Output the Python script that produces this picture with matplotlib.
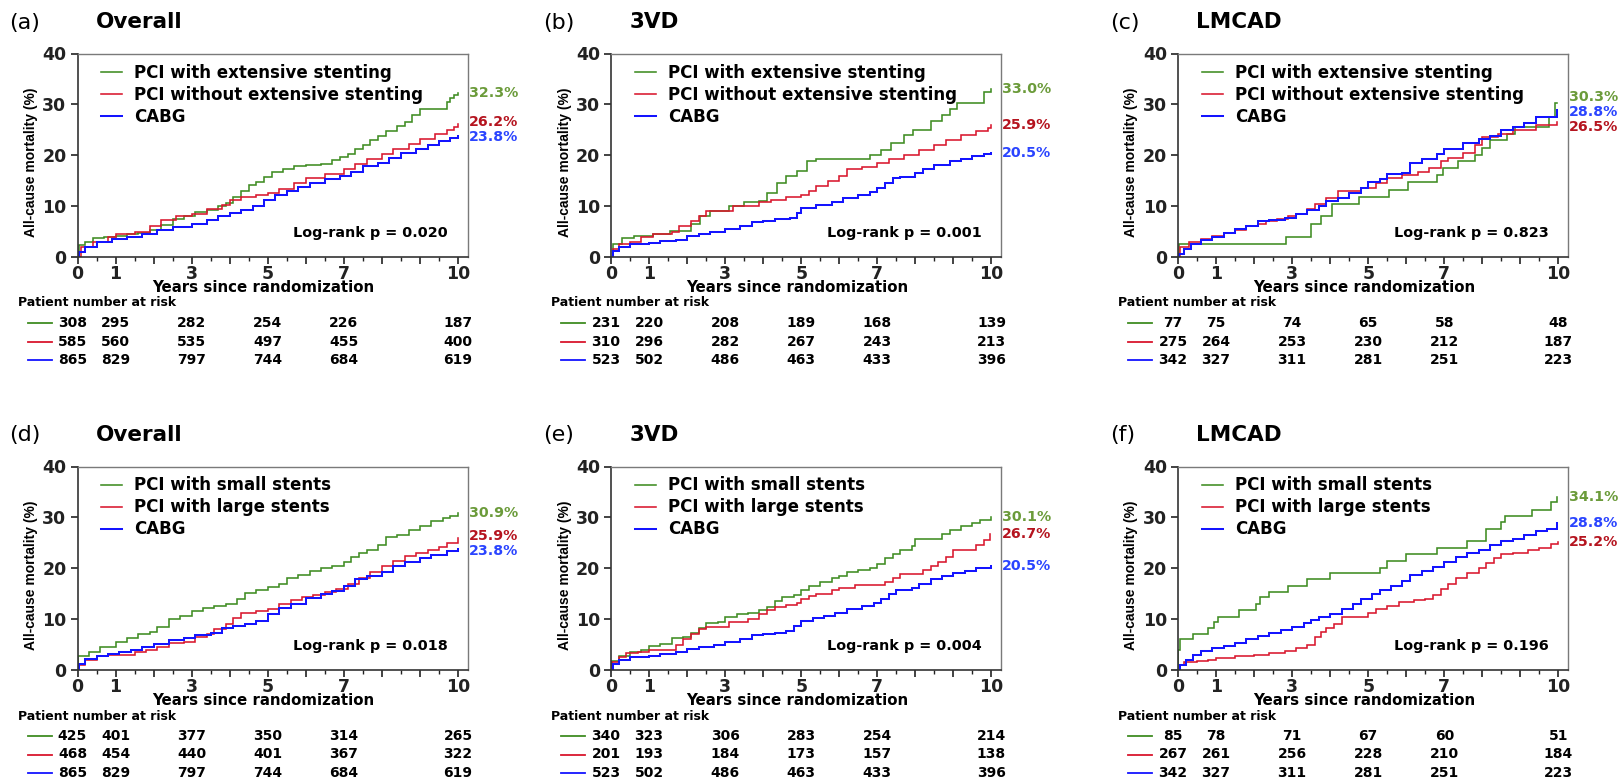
"""
Kaplan-Meier style all-cause mortality curves, six panels with risk tables.
Output: out.png
"""

import matplotlib
matplotlib.use("Agg")
import matplotlib.pyplot as plt
from matplotlib.ticker import FixedLocator, MultipleLocator, FuncFormatter

W, H = 1621, 780          # figure size in pixels (dpi 100)
AX_W, AX_H = 390, 203.5   # axes size in pixels
AX_LEFTS = [77.5, 611, 1178]
AX_TOPS = [53.5, 466.5]

GREEN, RED, BLUE = "#3f8c22", "#d9162d", "#1414ff"
LINE_COLORS = [GREEN, RED, BLUE]
LINE_WIDTHS = [1.15, 1.15, 1.45]
PCT_COLORS = ["#6b9b3a", "#b5141f", "#2a44ff"]

RISK_YEARS = [0, 1, 3, 5, 7, 10]
LABELED_YEARS = [0, 1, 3, 5, 7, 10]

TOP_LABELS = ["PCI with extensive stenting", "PCI without extensive stenting", "CABG"]
BOTTOM_LABELS = ["PCI with small stents", "PCI with large stents", "CABG"]

# ---- curves: (years, cumulative mortality %) ----
A_GREEN = [(0, 0), (0.05, 2.3), (0.2, 3.0), (0.4, 3.7), (0.7, 4.0), (1.0, 4.2), (1.3, 4.5),
           (1.6, 4.8), (1.9, 5.3), (2.2, 6.3), (2.5, 7.4), (2.8, 8.0), (3.1, 8.8), (3.4, 9.3),
           (3.7, 10.0), (3.9, 10.6), (4.1, 11.8), (4.3, 13.0), (4.5, 14.2), (4.7, 14.8),
           (4.9, 15.8), (5.1, 16.7), (5.4, 17.2), (5.7, 17.8), (6.0, 18.0), (6.4, 18.2),
           (6.7, 19.0), (6.9, 19.6), (7.1, 20.3), (7.3, 21.2), (7.5, 22.0), (7.7, 23.0),
           (7.9, 23.8), (8.1, 24.8), (8.4, 25.8), (8.6, 26.5), (8.8, 28.0), (9.0, 29.0),
           (9.7, 30.5), (9.8, 31.3), (9.9, 31.8), (10.0, 32.3)]
A_RED = [(0, 0), (0.1, 2.0), (0.4, 3.0), (0.8, 4.0), (1.0, 4.5), (1.5, 5.0), (1.9, 6.0),
         (2.2, 7.2), (2.6, 8.0), (3.0, 8.5), (3.4, 9.5), (3.8, 10.3), (4.0, 11.2), (4.3, 11.7),
         (4.7, 12.1), (5.0, 12.5), (5.3, 13.3), (5.7, 14.6), (6.0, 15.5), (6.5, 16.3),
         (7.0, 17.3), (7.3, 18.2), (7.6, 19.3), (8.0, 20.3), (8.3, 21.2), (8.7, 22.3),
         (9.0, 23.2), (9.4, 24.2), (9.7, 25.0), (9.9, 25.5), (10.0, 26.2)]
A_BLUE = [(0, 0), (0.05, 1.0), (0.2, 2.0), (0.5, 3.0), (0.9, 3.5), (1.3, 4.0), (1.7, 4.5),
          (2.1, 5.3), (2.5, 5.8), (3.0, 6.5), (3.4, 7.3), (3.7, 8.0), (4.0, 8.6), (4.3, 9.3),
          (4.6, 10.0), (4.9, 11.2), (5.2, 12.2), (5.5, 13.0), (5.8, 13.8), (6.1, 14.6),
          (6.5, 15.4), (6.9, 16.0), (7.2, 16.8), (7.5, 17.8), (7.9, 18.5), (8.2, 19.5),
          (8.5, 20.5), (8.9, 21.3), (9.2, 22.1), (9.5, 22.8), (9.8, 23.3), (10.0, 23.8)]

B_GREEN = [(0, 0), (0.05, 2.5), (0.3, 3.8), (0.6, 4.2), (1.1, 4.5), (1.55, 5.2), (2.1, 6.5),
           (2.35, 8.0), (2.6, 9.0), (3.1, 10.0), (3.5, 10.8), (3.9, 11.0), (4.1, 12.5),
           (4.35, 14.5), (4.6, 16.0), (4.9, 17.0), (5.15, 18.8), (5.4, 19.2), (6.5, 19.2),
           (6.8, 20.0), (7.1, 21.0), (7.35, 22.5), (7.7, 24.0), (7.95, 25.0), (8.4, 26.8),
           (8.7, 28.0), (8.9, 29.0), (9.1, 30.2), (9.7, 30.2), (9.8, 32.5), (10.0, 33.0)]
B_RED = [(0, 0), (0.05, 1.5), (0.2, 2.5), (0.5, 3.0), (0.8, 4.0), (1.1, 4.5), (1.6, 5.0),
         (1.8, 6.0), (2.1, 7.0), (2.3, 8.0), (2.5, 9.0), (3.2, 10.0), (3.9, 10.8), (4.2, 11.3),
         (4.6, 11.8), (5.0, 12.2), (5.2, 13.0), (5.4, 14.0), (5.7, 15.0), (6.0, 16.0),
         (6.2, 17.3), (6.6, 17.6), (7.0, 18.5), (7.3, 19.3), (7.7, 20.0), (8.1, 21.0),
         (8.5, 22.0), (8.8, 23.0), (9.2, 24.0), (9.6, 24.8), (9.9, 25.3), (10.0, 25.9)]
B_BLUE = [(0, 0), (0.05, 1.2), (0.2, 2.0), (0.5, 2.6), (1.0, 2.8), (1.3, 3.2), (1.7, 3.4),
          (2.0, 4.2), (2.3, 4.6), (2.6, 5.0), (3.0, 5.5), (3.4, 6.0), (3.7, 6.8), (4.0, 7.0),
          (4.3, 7.4), (4.7, 7.6), (4.9, 8.6), (5.0, 9.6), (5.4, 10.2), (5.8, 10.8),
          (6.1, 11.5), (6.5, 12.2), (6.8, 12.8), (7.0, 13.6), (7.2, 14.5), (7.4, 15.5),
          (7.6, 15.8), (8.0, 16.5), (8.2, 17.3), (8.5, 18.0), (8.9, 18.8), (9.2, 19.3),
          (9.5, 19.8), (9.8, 20.2), (10.0, 20.5)]

C_GREEN = [(0, 0), (0.02, 2.6), (2.85, 4.0), (3.5, 6.5), (3.75, 8.0), (4.05, 10.5),
           (4.75, 11.8), (5.55, 13.2), (6.05, 14.8), (6.8, 16.2), (6.97, 17.5), (7.35, 18.8),
           (7.8, 20.0), (8.0, 21.5), (8.2, 23.0), (8.65, 24.2), (8.85, 25.5), (9.75, 27.5),
           (9.9, 30.3), (9.95, 30.3)]
C_RED = [(0, 0), (0.05, 2.0), (0.3, 3.0), (0.6, 3.5), (0.9, 4.2), (1.2, 4.8), (1.5, 5.3),
         (1.8, 6.0), (2.1, 6.5), (2.3, 7.0), (2.6, 7.5), (2.9, 8.0), (3.1, 8.5), (3.4, 9.5),
         (3.6, 10.5), (3.9, 11.5), (4.2, 13.0), (4.8, 13.5), (5.2, 14.5), (5.5, 15.5),
         (5.9, 16.2), (6.3, 16.8), (6.6, 17.5), (6.9, 18.8), (7.1, 19.5), (7.5, 20.5),
         (7.8, 22.0), (8.0, 23.5), (8.4, 24.2), (8.8, 25.0), (9.4, 26.0), (9.95, 26.5)]
C_BLUE = [(0, 0), (0.02, 0.5), (0.15, 1.5), (0.35, 2.5), (0.6, 3.3), (0.9, 4.0), (1.2, 4.8),
          (1.5, 5.5), (1.8, 6.0), (2.1, 7.0), (2.4, 7.3), (2.8, 7.6), (3.1, 8.5), (3.4, 9.2),
          (3.7, 10.0), (3.9, 11.0), (4.2, 11.5), (4.5, 12.5), (4.8, 13.5), (5.0, 14.8),
          (5.3, 15.3), (5.5, 16.3), (5.9, 16.5), (6.1, 18.5), (6.4, 19.3), (6.8, 20.3),
          (7.0, 21.3), (7.5, 22.5), (7.9, 23.2), (8.2, 23.8), (8.5, 25.0), (8.8, 25.5),
          (9.1, 26.3), (9.4, 27.5), (9.8, 27.5), (9.95, 28.8)]

D_GREEN = [(0, 0), (0.02, 2.8), (0.3, 3.5), (0.6, 4.5), (1.0, 5.5), (1.3, 6.3), (1.6, 7.0),
           (1.9, 7.5), (2.1, 8.5), (2.4, 10.0), (2.7, 10.6), (3.0, 11.5), (3.3, 12.2),
           (3.6, 12.5), (3.9, 13.0), (4.2, 14.0), (4.4, 15.2), (4.7, 15.7), (5.0, 16.3),
           (5.3, 17.0), (5.5, 18.0), (5.8, 18.7), (6.1, 19.5), (6.4, 20.0), (6.7, 20.5),
           (7.0, 21.2), (7.2, 22.2), (7.4, 23.0), (7.6, 23.5), (7.9, 24.5), (8.1, 26.2),
           (8.4, 26.5), (8.7, 27.5), (9.0, 28.3), (9.3, 29.3), (9.6, 29.8), (9.8, 30.3),
           (10.0, 30.9)]
D_RED = [(0, 0), (0.05, 1.0), (0.2, 2.0), (0.5, 2.7), (0.8, 3.0), (1.5, 3.5), (1.8, 4.0),
         (2.1, 4.5), (2.4, 5.3), (2.8, 5.6), (3.1, 6.5), (3.4, 7.0), (3.6, 8.0), (3.9, 9.0),
         (4.1, 10.2), (4.3, 11.2), (4.7, 11.5), (5.0, 12.0), (5.3, 13.0), (5.6, 13.7),
         (5.9, 14.3), (6.2, 14.7), (6.5, 15.3), (6.8, 16.0), (7.1, 17.0), (7.4, 18.0),
         (7.7, 19.2), (8.0, 20.5), (8.3, 21.5), (8.6, 22.5), (8.9, 23.0), (9.2, 23.5),
         (9.5, 24.2), (9.7, 25.0), (10.0, 26.0)]
D_BLUE = [(0, 0), (0.05, 1.2), (0.2, 2.2), (0.5, 2.8), (0.8, 3.2), (1.1, 3.5), (1.4, 4.0),
          (1.7, 4.5), (2.0, 5.2), (2.4, 5.8), (2.8, 6.2), (3.1, 6.8), (3.5, 7.2), (3.8, 8.2),
          (4.1, 8.7), (4.4, 9.0), (4.7, 9.7), (5.0, 11.0), (5.3, 12.2), (5.6, 13.0),
          (6.0, 14.2), (6.4, 15.0), (6.7, 15.5), (7.0, 16.5), (7.3, 17.8), (7.6, 18.5),
          (8.0, 19.3), (8.3, 20.5), (8.6, 21.3), (9.0, 22.0), (9.3, 22.7), (9.7, 23.3),
          (10.0, 23.8)]

E_GREEN = [(0, 0), (0.02, 1.8), (0.2, 2.8), (0.5, 3.5), (0.8, 4.0), (1.0, 4.7), (1.3, 5.2),
           (1.6, 6.2), (1.9, 6.5), (2.1, 7.3), (2.3, 8.2), (2.5, 9.2), (2.8, 9.5), (3.0, 10.5),
           (3.3, 11.0), (3.6, 11.3), (3.9, 11.8), (4.1, 12.3), (4.3, 13.5), (4.5, 14.3),
           (4.8, 14.8), (5.0, 15.8), (5.2, 16.5), (5.5, 17.3), (5.8, 18.0), (6.0, 18.5),
           (6.2, 19.2), (6.5, 19.7), (6.8, 20.0), (7.0, 20.8), (7.2, 22.0), (7.4, 22.8),
           (7.6, 23.5), (7.9, 24.3), (8.0, 25.8), (8.7, 26.8), (8.9, 27.5), (9.2, 28.3),
           (9.5, 28.8), (9.7, 29.5), (10.0, 30.1)]
E_RED = [(0, 0), (0.03, 1.5), (0.2, 2.5), (0.4, 3.3), (0.7, 3.5), (1.0, 4.0), (1.7, 5.0),
         (1.9, 6.0), (2.1, 7.0), (2.3, 8.0), (2.5, 8.5), (3.1, 9.5), (3.6, 10.0), (3.9, 11.0),
         (4.1, 11.7), (4.3, 12.3), (4.6, 12.8), (4.9, 13.2), (5.0, 14.0), (5.2, 14.5),
         (5.4, 15.0), (5.8, 15.7), (6.0, 16.2), (6.4, 16.7), (7.2, 17.3), (7.4, 18.0),
         (7.6, 18.8), (8.2, 19.7), (8.4, 20.5), (8.6, 21.3), (8.8, 22.3), (9.0, 23.5),
         (9.6, 24.5), (9.8, 25.5), (9.95, 26.7)]
E_BLUE = [(0, 0), (0.05, 1.2), (0.2, 2.0), (0.5, 2.5), (1.0, 2.7), (1.3, 3.2), (1.7, 3.5),
          (2.0, 4.2), (2.3, 4.6), (2.7, 5.0), (3.0, 5.5), (3.4, 6.0), (3.7, 6.8), (4.0, 7.0),
          (4.3, 7.3), (4.6, 7.6), (4.8, 8.6), (5.0, 9.6), (5.3, 10.2), (5.6, 10.6),
          (5.9, 11.3), (6.2, 12.0), (6.6, 12.6), (6.9, 13.2), (7.1, 14.0), (7.3, 15.0),
          (7.5, 15.7), (7.9, 16.2), (8.1, 17.0), (8.4, 17.8), (8.7, 18.4), (9.0, 19.1),
          (9.3, 19.5), (9.6, 20.0), (10.0, 20.5)]

F_GREEN = [(0, 0), (0.01, 4.0), (0.05, 6.0), (0.4, 7.0), (0.8, 8.3), (0.95, 9.5), (1.05, 10.5),
           (1.6, 11.8), (2.05, 13.0), (2.15, 14.3), (2.4, 15.3), (2.9, 16.5), (3.4, 17.8),
           (4.0, 19.0), (5.3, 20.0), (5.5, 21.5), (6.0, 22.8), (6.8, 24.0), (7.6, 25.3),
           (8.1, 27.8), (8.5, 29.0), (8.6, 30.3), (9.3, 31.5), (9.8, 33.0), (9.95, 34.1)]
F_RED = [(0, 0), (0.05, 1.0), (0.15, 1.5), (0.5, 1.8), (0.8, 2.0), (1.0, 2.3), (1.5, 2.8),
         (2.0, 3.0), (2.4, 3.3), (2.8, 3.8), (3.1, 4.3), (3.4, 5.0), (3.6, 6.5), (3.75, 7.5),
         (3.9, 8.3), (4.1, 9.0), (4.3, 10.5), (5.0, 11.2), (5.2, 12.0), (5.5, 12.5),
         (5.8, 13.3), (6.2, 13.7), (6.5, 14.0), (6.7, 14.8), (6.9, 16.0), (7.1, 17.0),
         (7.3, 18.0), (7.6, 19.0), (7.9, 20.0), (8.1, 21.0), (8.3, 22.0), (8.5, 22.8),
         (8.8, 23.0), (9.2, 23.5), (9.5, 24.0), (9.8, 24.7), (10.0, 25.2)]
F_BLUE = [(0, 0), (0.05, 1.0), (0.2, 2.0), (0.4, 3.0), (0.6, 3.8), (0.9, 4.3), (1.2, 4.8),
          (1.5, 5.3), (1.8, 6.0), (2.1, 6.6), (2.4, 7.2), (2.7, 7.8), (3.0, 8.5), (3.3, 9.2),
          (3.5, 9.8), (3.7, 10.5), (4.0, 11.0), (4.3, 12.0), (4.6, 13.0), (4.8, 14.0),
          (5.1, 15.0), (5.3, 15.8), (5.6, 16.5), (5.9, 17.5), (6.1, 18.7), (6.4, 19.5),
          (6.7, 20.2), (7.0, 21.3), (7.3, 22.2), (7.6, 23.0), (7.9, 23.5), (8.2, 24.5),
          (8.5, 25.3), (8.8, 25.8), (9.1, 26.5), (9.4, 27.3), (9.7, 27.8), (9.95, 28.8)]

# ---- 10-year rates printed at the right of each panel (green, red, blue) ----
A_FINAL = [32.3, 26.2, 23.8]
B_FINAL = [33.0, 25.9, 20.5]
C_FINAL = [30.3, 26.5, 28.8]
D_FINAL = [30.9, 25.9, 23.8]
E_FINAL = [30.1, 26.7, 20.5]
F_FINAL = [34.1, 25.2, 28.8]

# ---- patient number at risk at RISK_YEARS (green, red, blue rows) ----
A_RISK = [[308, 295, 282, 254, 226, 187], [585, 560, 535, 497, 455, 400], [865, 829, 797, 744, 684, 619]]
B_RISK = [[231, 220, 208, 189, 168, 139], [310, 296, 282, 267, 243, 213], [523, 502, 486, 463, 433, 396]]
C_RISK = [[77, 75, 74, 65, 58, 48], [275, 264, 253, 230, 212, 187], [342, 327, 311, 281, 251, 223]]
D_RISK = [[425, 401, 377, 350, 314, 265], [468, 454, 440, 401, 367, 322], [865, 829, 797, 744, 684, 619]]
E_RISK = [[340, 323, 306, 283, 254, 214], [201, 193, 184, 173, 157, 138], [523, 502, 486, 463, 433, 396]]
F_RISK = [[85, 78, 71, 67, 60, 51], [267, 261, 256, 228, 210, 184], [342, 327, 311, 281, 251, 223]]

PANEL_LETTERS = ["a", "b", "c", "d", "e", "f"]
PANEL_TITLES = ["Overall", "3VD", "LMCAD", "Overall", "3VD", "LMCAD"]
P_VALUES = ["0.020", "0.001", "0.823", "0.018", "0.004", "0.196"]


def spread(values, gap=2.9, rounds=40):
    """Push label positions apart so they keep a minimum vertical gap."""
    pos = list(values)
    order = sorted(range(len(pos)), key=lambda i: -pos[i])
    for _ in range(rounds):
        for a, b in zip(order, order[1:]):
            d = pos[a] - pos[b]
            if d < gap:
                shift = (gap - d) / 2
                pos[a] += shift
                pos[b] -= shift
    return pos


def draw_panel(fig, left, top, letter, title, curves, labels, finals, risk, pval):
    ax = fig.add_axes([left / W, 1 - (top + AX_H) / H, AX_W / W, AX_H / H])

    for pts, color, lw, lab in zip(curves, LINE_COLORS, LINE_WIDTHS, labels):
        t = [p[0] for p in pts]
        v = [p[1] for p in pts]
        ax.plot(t, v, drawstyle="steps-post", color=color, lw=lw, label=lab,
                solid_joinstyle="miter")

    ax.set_xlim(0, 10.25)
    ax.set_ylim(0, 40)
    ax.xaxis.set_major_locator(FixedLocator(range(11)))
    ax.xaxis.set_minor_locator(MultipleLocator(0.5))
    ax.xaxis.set_major_formatter(FuncFormatter(
        lambda x, _: f"{x:.0f}" if round(x) in LABELED_YEARS else ""))
    ax.yaxis.set_major_locator(FixedLocator([0, 10, 20, 30, 40]))
    ax.tick_params(axis="x", which="major", direction="out", length=5, width=1.2,
                   labelsize=12.5, pad=0.5, colors="#222222")
    ax.tick_params(axis="x", which="minor", direction="out", length=3, width=1.0,
                   colors="#222222")
    ax.tick_params(axis="y", direction="out", length=5, width=1.2,
                   labelsize=12.5, pad=3, colors="#222222")
    for side in ("left", "bottom"):
        ax.spines[side].set_color("#333333")
        ax.spines[side].set_linewidth(1.2)
    for side in ("top", "right"):
        ax.spines[side].set_color("#7a7a7a")
        ax.spines[side].set_linewidth(1.0)

    ax.set_xlabel("Years since randomization", fontsize=10.8, fontweight="bold", va="center")
    ax.xaxis.set_label_coords(0.477, -30.5 / AX_H)
    ax.set_ylabel("All-cause mortality (%)", fontsize=10, fontweight="bold",
                  family="Liberation Sans", va="center")
    ax.yaxis.set_label_coords(-46.5 / AX_W, 0.464)

    ax.legend(loc="upper left", bbox_to_anchor=(23.5 / AX_W, 1 - 10 / AX_H),
              frameon=False, handlelength=1.28, handletextpad=0.72,
              labelspacing=0.24, borderpad=0, borderaxespad=0,
              prop={"weight": "bold", "size": 12})

    ax.text(0.95, 0.117, f"Log-rank p = {pval}", transform=ax.transAxes,
            ha="right", va="center", fontsize=10.4, fontweight="bold")

    # 10-year rates at the right edge
    for val, ypos, col in zip(finals, spread(finals), PCT_COLORS):
        ax.annotate(f"{val:.1f}%", xy=(1, ypos), xycoords=ax.get_yaxis_transform(),
                    xytext=(1, 0), textcoords="offset pixels", ha="left", va="center",
                    fontsize=10.2, fontweight="bold", color=col, annotation_clip=False)

    # panel letter and title
    ax.text(-68 / AX_W, 1 + 31 / AX_H, f"({letter})", transform=ax.transAxes,
            ha="left", va="center", fontsize=16, fontweight="normal")
    ax.text(18.5 / AX_W, 1 + 31 / AX_H, title, transform=ax.transAxes,
            ha="left", va="center", fontsize=15.5, fontweight="bold")

    # risk table
    ax.text(-60 / AX_W, -46 / AX_H, "Patient number at risk", transform=ax.transAxes,
            ha="left", va="center", fontsize=9, fontweight="bold")
    for i, (row, col) in enumerate(zip(risk, LINE_COLORS)):
        y = -(66 + 18.5 * i) / AX_H
        ax.plot([-50 / AX_W, -26 / AX_W], [y, y], transform=ax.transAxes,
                clip_on=False, color=col, lw=1.3)
        for j, (yr, n) in enumerate(zip(RISK_YEARS, row)):
            ax.annotate(str(n), xy=(yr, y), xycoords=ax.get_xaxis_transform(),
                        xytext=(-5 if j == 0 else 0, 0), textcoords="offset pixels",
                        ha="center", va="center", fontsize=10, fontweight="bold",
                        annotation_clip=False)
    return ax


def main():
    plt.rcParams["font.family"] = ["DejaVu Sans"]
    plt.rcParams["font.weight"] = "bold"
    fig = plt.figure(figsize=(W / 100, H / 100), dpi=100)

    curves = [[A_GREEN, A_RED, A_BLUE], [B_GREEN, B_RED, B_BLUE], [C_GREEN, C_RED, C_BLUE],
              [D_GREEN, D_RED, D_BLUE], [E_GREEN, E_RED, E_BLUE], [F_GREEN, F_RED, F_BLUE]]
    finals = [A_FINAL, B_FINAL, C_FINAL, D_FINAL, E_FINAL, F_FINAL]
    risks = [A_RISK, B_RISK, C_RISK, D_RISK, E_RISK, F_RISK]

    for k in range(6):
        row, col = divmod(k, 3)
        labels = TOP_LABELS if row == 0 else BOTTOM_LABELS
        draw_panel(fig, AX_LEFTS[col], AX_TOPS[row], PANEL_LETTERS[k], PANEL_TITLES[k],
                   curves[k], labels, finals[k], risks[k], P_VALUES[k])

    fig.savefig("out.png", dpi=100)


if __name__ == "__main__":
    main()
